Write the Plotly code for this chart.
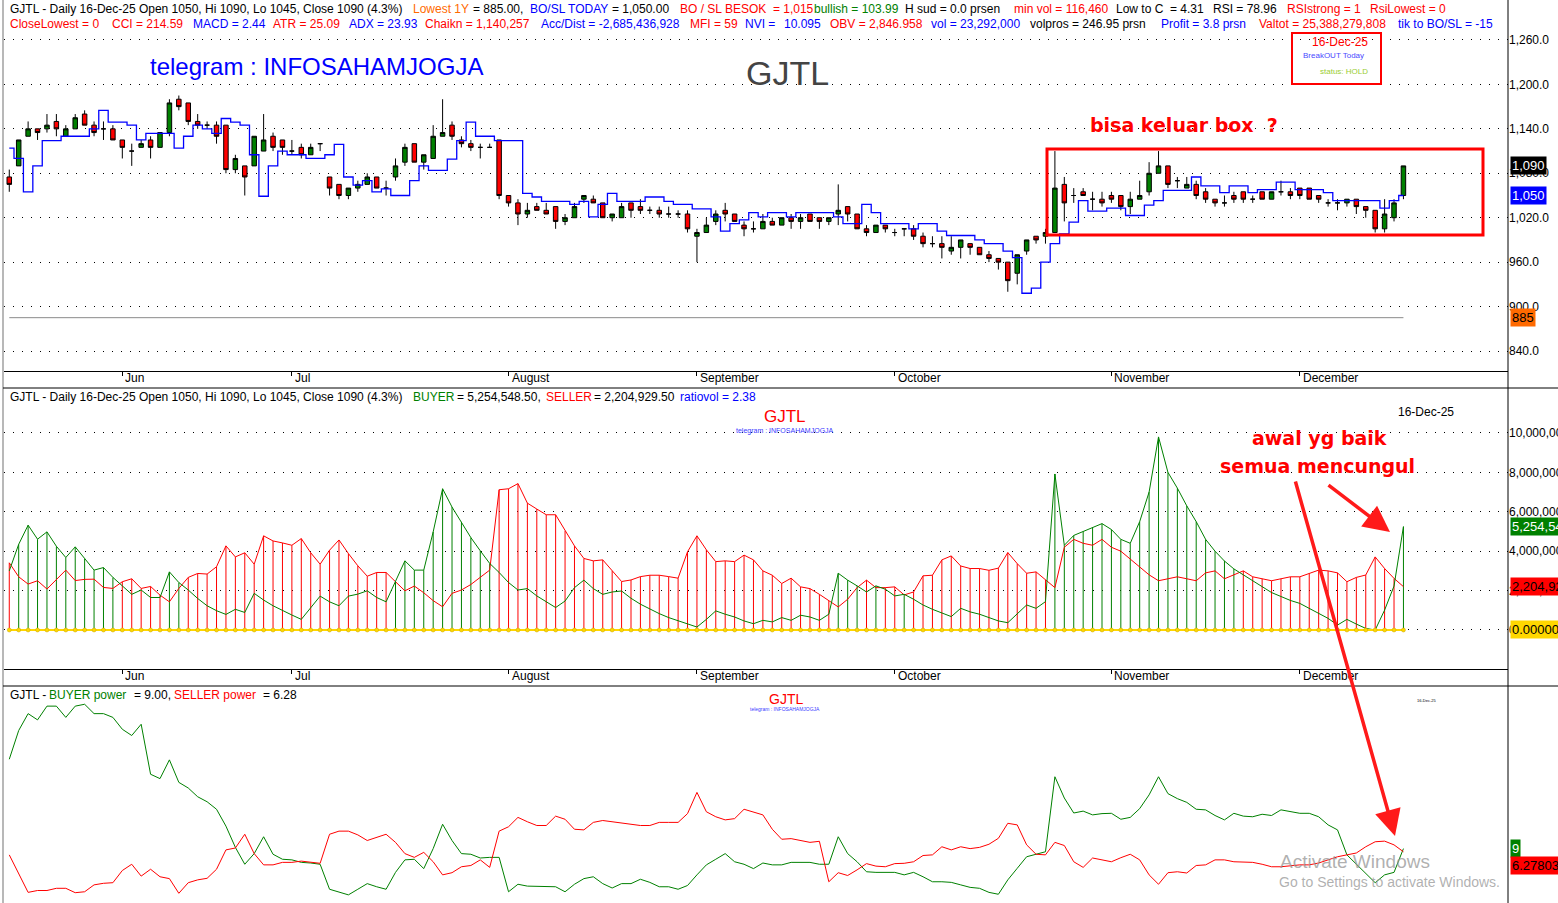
import plotly.graph_objects as go

W, H = 1558, 903
L, R = 4, 50
FONT = "Liberation Sans, Arial, sans-serif"
HAND = "DejaVu Sans, sans-serif"

# ---------------- data ----------------
month_names = ["Jun", "Jul", "August", "September", "October", "November", "December"]
month_start = [12, 30, 53, 73, 94, 117, 137]

price_open = [1075, 1090, 1130, 1140, 1140, 1150, 1130, 1140, 1160, 1145,
              1140, 1140, 1125, 1110, 1115, 1125, 1115, 1135, 1180, 1175,
              1150, 1145, 1145, 1145, 1085, 1090, 1090, 1110, 1130, 1125,
              1110, 1115, 1105, 1120, 1075, 1065, 1050, 1060, 1065, 1075,
              1060, 1075, 1095, 1120, 1095, 1100, 1130, 1145, 1125, 1120,
              1115, 1115, 1125, 1050, 1040, 1025, 1035, 1030, 1035, 1015,
              1020, 1045, 1045, 1040, 1020, 1020, 1040, 1035, 1030, 1030,
              1025, 1025, 1025, 995, 1000, 1015, 1030, 1025, 1010, 1005,
              1005, 1015, 1010, 1020, 1015, 1025, 1020, 1015, 1025, 1035,
              1025, 1005, 1000, 1010, 1000, 1005, 1005, 995, 985, 985,
              975, 980, 985, 980, 970, 965, 960, 945, 975, 995,
              995, 1000, 1065, 1050, 1055, 1045, 1045, 1050, 1050, 1035,
              1045, 1055, 1080, 1090, 1070, 1060, 1065, 1055, 1045, 1040,
              1050, 1055, 1045, 1055, 1045, 1055, 1055, 1060, 1060, 1050,
              1040, 1040, 1040, 1045, 1035, 1030, 1005, 1020, 1050]
price_high = [1085, 1125, 1150, 1140, 1160, 1160, 1145, 1160, 1165, 1150,
              1150, 1145, 1125, 1120, 1125, 1130, 1135, 1180, 1185, 1175,
              1160, 1150, 1150, 1145, 1105, 1090, 1130, 1160, 1135, 1125,
              1125, 1120, 1120, 1120, 1075, 1065, 1060, 1070, 1080, 1075,
              1070, 1100, 1120, 1120, 1105, 1145, 1180, 1150, 1130, 1125,
              1120, 1120, 1125, 1050, 1045, 1040, 1040, 1040, 1035, 1025,
              1040, 1050, 1050, 1040, 1025, 1040, 1040, 1045, 1035, 1035,
              1035, 1030, 1030, 1005, 1020, 1030, 1040, 1025, 1015, 1015,
              1025, 1020, 1020, 1025, 1025, 1025, 1020, 1020, 1065, 1035,
              1025, 1010, 1010, 1010, 1005, 1005, 1010, 1000, 995, 995,
              995, 990, 985, 980, 975, 965, 960, 970, 990, 995,
              1005, 1110, 1075, 1060, 1060, 1055, 1055, 1055, 1050, 1055,
              1070, 1095, 1110, 1090, 1075, 1075, 1070, 1060, 1045, 1050,
              1055, 1055, 1050, 1055, 1055, 1070, 1060, 1060, 1060, 1050,
              1045, 1045, 1045, 1045, 1035, 1030, 1045, 1045, 1090]
price_low = [1055, 1090, 1130, 1125, 1135, 1130, 1130, 1140, 1145, 1130,
             1125, 1125, 1100, 1090, 1115, 1100, 1115, 1130, 1165, 1145,
             1140, 1140, 1120, 1080, 1080, 1050, 1090, 1110, 1110, 1105,
             1105, 1100, 1105, 1110, 1050, 1045, 1045, 1055, 1065, 1060,
             1050, 1070, 1090, 1095, 1085, 1100, 1130, 1125, 1115, 1110,
             1100, 1115, 1045, 1035, 1010, 1020, 1030, 1025, 1005, 1010,
             1020, 1040, 1040, 1020, 1015, 1020, 1020, 1025, 1025, 1020,
             1020, 1020, 1000, 960, 1000, 1010, 1015, 1015, 995, 1000,
             1005, 1010, 1010, 1005, 1005, 1015, 1005, 1010, 1010, 1015,
             1005, 995, 1000, 1000, 995, 995, 990, 980, 980, 965,
             970, 965, 970, 970, 960, 950, 920, 930, 970, 985,
             985, 1000, 1015, 1040, 1050, 1030, 1035, 1040, 1030, 1025,
             1045, 1050, 1080, 1060, 1060, 1060, 1045, 1040, 1035, 1035,
             1040, 1040, 1040, 1045, 1045, 1050, 1045, 1045, 1045, 1040,
             1035, 1030, 1035, 1025, 1020, 1000, 1000, 1015, 1045]
price_close = [1065, 1125, 1140, 1135, 1145, 1140, 1140, 1155, 1145, 1135,
               1140, 1125, 1115, 1110, 1120, 1115, 1135, 1175, 1170, 1150,
               1145, 1145, 1130, 1085, 1100, 1075, 1130, 1125, 1115, 1115,
               1110, 1105, 1115, 1120, 1060, 1050, 1060, 1065, 1075, 1060,
               1060, 1090, 1115, 1095, 1105, 1130, 1135, 1130, 1120, 1115,
               1115, 1115, 1050, 1040, 1025, 1030, 1030, 1025, 1015, 1020,
               1035, 1050, 1040, 1020, 1025, 1035, 1030, 1030, 1030, 1025,
               1025, 1025, 1005, 1000, 1010, 1025, 1025, 1015, 1005, 1005,
               1015, 1010, 1020, 1015, 1020, 1015, 1015, 1020, 1030, 1025,
               1005, 1000, 1010, 1005, 1000, 1005, 995, 985, 985, 980,
               980, 990, 980, 970, 965, 960, 935, 970, 990, 990,
               1000, 1060, 1040, 1050, 1050, 1045, 1040, 1045, 1035, 1045,
               1050, 1080, 1090, 1065, 1070, 1065, 1050, 1045, 1040, 1040,
               1045, 1045, 1045, 1045, 1055, 1055, 1050, 1050, 1045, 1045,
               1040, 1040, 1045, 1035, 1030, 1005, 1025, 1040, 1090]
bo_sl = [1114, 1100, 1055, 1090, 1124, 1124, 1130, 1130, 1130, 1140,
         1165, 1149, 1149, 1145, 1125, 1134, 1134, 1134, 1114, 1130,
         1145, 1140, 1134, 1154, 1149, 1145, 1105, 1049, 1090, 1110,
         1105, 1105, 1100, 1100, 1105, 1119, 1075, 1064, 1070, 1055,
         1059, 1050, 1050, 1070, 1090, 1084, 1084, 1099, 1124, 1149,
         1130, 1130, 1124, 1124, 1124, 1053, 1048, 1042, 1042, 1042,
         1038, 1042, 1021, 1038, 1053, 1042, 1042, 1042, 1048, 1048,
         1042, 1038, 1038, 1032, 1032, 1021, 1002, 1012, 1017, 1027,
         1021, 1027, 1027, 1021, 1027, 1027, 1027, 1027, 1021, 1012,
         1012, 1038, 1027, 1012, 1012, 1012, 1005, 1012, 1012, 1002,
         996, 996, 996, 990, 985, 985, 975, 966, 918, 925,
         960, 985, 998, 1014, 1043, 1029, 1029, 1033, 1033, 1023,
         1023, 1037, 1043, 1057, 1057, 1057, 1075, 1063, 1063, 1054,
         1063, 1063, 1054, 1058, 1058, 1068, 1068, 1058, 1058, 1058,
         1054, 1043, 1043, 1043, 1043, 1043, 1033, 1043, 1050]
lowest_1y = 885

# buyer / seller volume, millions of shares
buyer_vol = [3.00, 4.35, 5.32, 4.61, 4.98, 4.25, 3.68, 4.22, 3.63, 3.04,
             3.17, 2.67, 2.24, 1.81, 2.03, 1.65, 1.65, 2.95, 2.41, 2.03,
             1.60, 1.23, 0.98, 0.79, 1.05, 0.89, 1.86, 1.52, 1.23, 0.98,
             0.76, 0.54, 1.13, 1.72, 1.43, 1.23, 1.72, 1.82, 1.99, 1.65,
             1.43, 2.48, 3.51, 3.04, 3.04, 4.98, 7.17, 6.24, 5.49, 4.69,
             4.02, 3.38, 2.92, 2.41, 2.03, 2.10, 1.73, 1.42, 1.14, 1.47,
             2.15, 2.53, 2.10, 1.81, 1.93, 1.98, 1.61, 1.31, 1.05, 0.83,
             0.63, 0.46, 0.29, 0.15, 0.54, 0.97, 0.80, 0.66, 0.46, 0.32,
             0.49, 0.41, 0.63, 0.49, 0.75, 0.66, 0.49, 0.80, 2.88, 2.53,
             2.24, 1.93, 2.24, 2.07, 1.73, 1.81, 1.56, 1.27, 1.05, 0.88,
             0.68, 1.10, 0.92, 0.80, 0.63, 0.46, 0.37, 0.83, 1.27, 1.10,
             1.44, 7.92, 4.3, 4.8, 5.0, 5.2, 5.4, 5.1, 4.6, 4.4,
             5.5, 7.0, 9.8, 8.0, 7.2, 6.3, 5.5, 4.6, 4.0, 3.5,
             3.1, 2.8, 2.5, 2.2, 1.9, 1.7, 1.5, 1.35, 1.10, 0.81,
             0.59, 0.25, 0.54, 0.30, 0.08, 0.0, 1.01, 2.23, 5.25]
seller_vol = [3.41, 2.70, 2.33, 2.50, 2.08, 2.57, 3.04, 2.51, 2.57, 2.58,
              2.16, 2.11, 2.45, 2.60, 2.11, 2.21, 1.77, 1.43, 2.11, 2.67,
              2.87, 2.84, 3.21, 4.27, 3.71, 3.92, 3.34, 4.78, 4.52, 4.42,
              4.30, 4.64, 3.92, 3.34, 4.05, 4.57, 3.88, 3.26, 2.73, 2.92,
              2.92, 2.45, 1.99, 2.23, 1.89, 1.49, 1.18, 1.86, 2.03, 2.31,
              2.67, 3.04, 7.12, 7.17, 7.43, 6.44, 6.14, 5.85, 5.85, 5.03,
              4.27, 3.63, 3.51, 3.56, 3.00, 2.46, 2.54, 2.71, 2.78, 2.78,
              2.71, 2.63, 3.97, 4.78, 4.07, 3.47, 3.51, 3.47, 3.80, 3.56,
              3.00, 2.78, 2.36, 2.63, 2.19, 2.10, 1.81, 1.47, 1.17, 1.56,
              2.15, 2.53, 2.15, 2.15, 2.19, 1.78, 1.93, 2.75, 2.78, 3.56,
              3.76, 3.25, 3.12, 3.12, 3.03, 3.14, 3.93, 3.37, 2.88, 2.95,
              2.54, 2.15, 4.2, 4.6, 4.4, 4.3, 4.6, 4.2, 4.0, 3.6,
              3.2, 2.8, 2.5, 2.6, 2.7, 2.6, 2.5, 2.9, 3.0, 2.6,
              2.8, 3.0, 2.7, 2.6, 2.5, 2.6, 2.7, 2.70, 2.87, 3.04,
              3.00, 2.90, 2.45, 2.67, 2.79, 3.71, 3.12, 2.62, 2.20]

buyer_power = [23.2, 27.8, 30.5, 29.5, 31.7, 31.7, 29.9, 31.7, 32.0, 30.5,
               30.5, 29.9, 28.0, 27.0, 28.8, 20.8, 20.1, 23.1, 19.5, 18.6,
               17.2, 16.4, 15.2, 12.5, 9.1, 6.4, 8.1, 10.8, 8.0, 7.2,
               7.1, 6.7, 6.6, 6.4, 2.4, 1.9, 1.5, 2.4, 3.3, 2.8,
               2.4, 5.1, 7.1, 7.2, 5.7, 8.9, 12.8, 10.2, 8.1, 8.0,
               7.4, 7.5, 7.5, 2.0, 3.2, 2.9, 2.9, 2.9, 2.8, 2.0,
               3.2, 4.1, 4.4, 3.3, 2.6, 3.3, 3.3, 4.0, 3.5, 2.8,
               2.8, 2.4, 3.0, 4.7, 6.3, 7.2, 8.1, 6.8, 6.4, 5.7,
               6.6, 6.3, 6.3, 6.7, 6.7, 6.7, 6.4, 6.4, 10.8, 8.1,
               6.8, 5.2, 5.1, 5.1, 5.1, 4.7, 5.1, 4.4, 3.6, 3.6,
               3.5, 3.1, 2.7, 2.55, 1.9, 1.6, 3.9, 5.75, 7.6, 8.0,
               8.4, 20.4, 17.0, 14.6, 14.9, 14.3, 14.5, 14.55, 13.6, 13.9,
               15.3, 17.5, 20.4, 17.7, 16.9, 16.3, 15.2, 15.1, 14.2, 13.5,
               14.55, 14.1, 14.0, 14.4, 14.2, 15.1, 14.8, 14.55, 14.55, 14.0,
               12.7, 11.9, 7.9, 6.4, 4.95, 3.45, 4.7, 5.1, 8.9]
seller_power = [7.9, 5.0, 1.9, 2.2, 2.2, 2.55, 2.55, 1.85, 2.0, 3.1,
                3.35, 3.45, 5.4, 6.4, 4.5, 5.6, 4.4, 4.1, 1.75, 3.45,
                3.9, 4.15, 5.6, 8.7, 9.0, 11.2, 8.1, 6.3, 6.3, 6.7,
                6.7, 6.9, 6.7, 6.55, 11.2, 11.7, 11.7, 11.1, 10.2, 10.7,
                11.2, 9.9, 8.1, 7.5, 8.3, 6.8, 4.7, 5.05, 6.0, 6.2,
                7.1, 5.9, 11.7, 12.4, 13.9, 13.2, 12.6, 12.6, 14.1, 13.6,
                12.0, 11.9, 13.1, 13.4, 13.2, 13.1, 12.9, 12.6, 12.6, 13.1,
                13.1, 13.1, 14.5, 17.9, 14.8, 14.0, 13.5, 13.7, 15.2, 14.8,
                14.3, 12.0, 10.4, 10.5, 10.2, 9.9, 10.07, 3.6, 5.05, 4.6,
                5.5, 6.5, 6.1, 6.0, 6.5, 6.55, 6.8, 7.8, 7.9, 9.2,
                8.7, 9.2, 8.9, 9.1, 9.6, 10.55, 12.95, 12.7, 9.5, 8.0,
                7.9, 9.9, 9.4, 6.8, 5.9, 7.4, 7.1, 6.8, 7.45, 8.0,
                7.1, 4.7, 3.2, 5.05, 5.2, 5.0, 6.2, 6.3, 7.1, 7.1,
                6.8, 6.7, 6.7, 6.4, 6.0, 6.0, 6.2, 6.3, 6.3, 6.6,
                7.1, 7.6, 7.9, 8.2, 9.2, 10.0, 10.1, 9.5, 8.4]

N = len(price_close)
bars = list(range(N))


def px(x):  # screen x (pixels) -> paper
    return (x - L) / (W - L - R)


def py(y):  # screen y (pixels, from top) -> paper
    return 1 - y / H


RED, GREEN, BLUE = "#FF0000", "#008000", "#0000FF"

fig = go.Figure()

# ---- price panel ----
fig.add_trace(go.Candlestick(
    x=bars, open=price_open, high=price_high, low=price_low, close=price_close,
    increasing=dict(fillcolor=GREEN, line=dict(color="black", width=1)),
    decreasing=dict(fillcolor=RED, line=dict(color="black", width=1)),
    whiskerwidth=0, xaxis="x", yaxis="y", hoverinfo="skip"))
fig.add_trace(go.Scatter(x=bars, y=bo_sl, mode="lines", line=dict(color=BLUE, width=1.3, shape="hvh"),
                         xaxis="x", yaxis="y"))
fig.add_trace(go.Scatter(x=[bars[0], bars[-1]], y=[lowest_1y, lowest_1y], mode="lines",
                         line=dict(color="#8a8a8a", width=1), xaxis="x", yaxis="y"))

# ---- buyer / seller volume panel ----
gx, gy, rx, ry = [], [], [], []
for i, (b, s) in enumerate(zip(buyer_vol, seller_vol)):
    top = max(b, s) * 1e6
    if b >= s:
        gx += [i, i, None]; gy += [0, top, None]
    else:
        rx += [i, i, None]; ry += [0, top, None]
fig.add_trace(go.Scatter(x=gx, y=gy, mode="lines", line=dict(color=GREEN, width=1), xaxis="x2", yaxis="y2"))
fig.add_trace(go.Scatter(x=rx, y=ry, mode="lines", line=dict(color=RED, width=1), xaxis="x2", yaxis="y2"))
fig.add_trace(go.Scatter(x=bars, y=[v * 1e6 for v in seller_vol], mode="lines",
                         line=dict(color=RED, width=1), xaxis="x2", yaxis="y2"))
fig.add_trace(go.Scatter(x=bars, y=[v * 1e6 for v in buyer_vol], mode="lines",
                         line=dict(color=GREEN, width=1), xaxis="x2", yaxis="y2"))
fig.add_trace(go.Scatter(x=bars, y=[0] * N, mode="lines+markers",
                         line=dict(color="#FFD700", width=2),
                         marker=dict(size=4, color="#FFD700", line=dict(color="#C9A400", width=0.5)),
                         xaxis="x2", yaxis="y2"))

# ---- buyer / seller power panel ----
fig.add_trace(go.Scatter(x=bars, y=buyer_power, mode="lines", line=dict(color=GREEN, width=1),
                         xaxis="x3", yaxis="y3"))
fig.add_trace(go.Scatter(x=bars, y=seller_power, mode="lines", line=dict(color=RED, width=1),
                         xaxis="x3", yaxis="y3"))

xrange = [-0.56, 159.1]
xcommon = dict(range=xrange, showgrid=False, zeroline=False, tickvals=month_start, showticklabels=False,
               ticks="outside", ticklen=4, tickcolor="black", showline=True, linecolor="black",
               linewidth=1, rangeslider=dict(visible=False), fixedrange=True)
grid = dict(showgrid=True, gridcolor="black", gridwidth=1, griddash="1px,8px", zeroline=False,
            side="right", ticks="", showline=False, automargin=False,
            tickfont=dict(size=12, color="black", family=FONT))

fig.update_layout(
    width=W, height=H, margin=dict(l=L, r=R, t=0, b=0),
    paper_bgcolor="white", plot_bgcolor="white", showlegend=False, boxgap=0.32,
    font=dict(family=FONT, size=12, color="black"),
    xaxis=dict(domain=[0, 1], anchor="y", **xcommon),
    xaxis2=dict(domain=[0, 1], anchor="y2", matches="x", **xcommon),
    xaxis3=dict(domain=[0, 1], anchor="y3", matches="x", range=xrange, showgrid=False, zeroline=False,
                showticklabels=False, ticks="", showline=False),
    yaxis=dict(domain=[py(371), 1], range=[813, 1314], tickvals=[840, 900, 960, 1020, 1080, 1140, 1200, 1260],
               tickformat=",.1f", **grid),
    yaxis2=dict(domain=[py(669), py(388)], range=[-1.98e6, 12.284e6],
                tickvals=[0, 2e6, 4e6, 6e6, 8e6, 10e6], tickformat=",d", **grid),
    yaxis3=dict(domain=[0, py(686)], range=[0.2, 34.92], showgrid=False, zeroline=False,
                showticklabels=False, ticks=""),
)

ann = []


def text(x, y, s, color="black", size=12, anchor="left", bold=False, family=FONT, **kw):
    if bold:
        s = "<b>" + s + "</b>"
    d = dict(x=px(x), y=py(y), xref="paper", yref="paper", text=s, showarrow=False,
             xanchor=anchor, yanchor="middle", font=dict(color=color, size=size, family=family))
    d.update(kw)
    ann.append(d)


ORANGE = "#FF6A00"
header1 = [(8, "black", "GJTL - Daily 16-Dec-25 Open 1050, Hi 1090, Lo 1045, Close 1090 (4.3%)"),
           (411, ORANGE, "Lowest 1Y"), (471, "black", "= 885.00,"), (528, BLUE, "BO/SL TODAY"),
           (610, "black", "= 1,050.00"), (678, RED, "BO / SL BESOK\u00a0 = 1,015"),
           (812, GREEN, "bullish = 103.99"), (903, "black", "H sud = 0.0 prsen"),
           (1012, RED, "min vol = 116,460"), (1114, "black", "Low to C\u00a0 = 4.31"),
           (1211, "black", "RSI = 78.96"), (1285, RED, "RSIstrong = 1"), (1368, RED, "RsiLowest = 0")]
header2 = [(8, RED, "CloseLowest = 0"), (110, RED, "CCI = 214.59"), (191, BLUE, "MACD = 2.44"),
           (271, RED, "ATR = 25.09"), (347, BLUE, "ADX = 23.93"), (423, RED, "Chaikn = 1,140,257"),
           (539, BLUE, "Acc/Dist = -2,685,436,928"), (688, RED, "MFI = 59"), (743, BLUE, "NVI ="),
           (782, BLUE, "10.095"), (828, RED, "OBV = 2,846.958"), (929, BLUE, "vol = 23,292,000"),
           (1028, "black", "volpros = 246.95 prsn"), (1159, BLUE, "Profit = 3.8 prsn"),
           (1257, RED, "Valtot = 25,388,279,808"), (1396, BLUE, "tik to BO/SL = -15")]
header3 = [(8, "black", "GJTL - Daily 16-Dec-25 Open 1050, Hi 1090, Lo 1045, Close 1090 (4.3%)"),
           (411, GREEN, "BUYER"), (455, "black", "= 5,254,548.50,"), (544, RED, "SELLER"),
           (592, "black", "= 2,204,929.50"), (678, BLUE, "ratiovol = 2.38")]
header4 = [(8, "black", "GJTL -"), (47, GREEN, "BUYER power"), (132, "black", "= 9.00,"),
           (172, RED, "SELLER power"), (261, "black", "= 6.28")]
for y, row in [(9, header1), (24, header2), (397, header3), (695, header4)]:
    for x, c, s in row:
        text(x, y, s, c)

# month labels under price and volume panels
for y in (378, 676):
    for name, i in zip(month_names, month_start):
        ann.append(dict(x=i, y=py(y), xref="x", yref="paper", text=name, showarrow=False,
                        xanchor="left", yanchor="middle", xshift=1, font=dict(size=12, family=FONT)))

# titles / notes / watermark
text(148, 66, "telegram : INFOSAHAMJOGJA", BLUE, 24)
text(787, 73, "GJTL", "#444444", 34, anchor="center")
text(1340, 42, "16-Dec-25", RED, 12, anchor="center")
text(1301, 55, "BreakOUT Today", "#4a4aff", 8)
text(1318, 71, "status: HOLD", "#9ACD32", 8)
text(1088, 125, "bisa keluar box\u00a0 ?", RED, 19, bold=True, family=HAND)
text(785, 416, "GJTL", RED, 17, anchor="center")
text(785, 431, "telegram : INFOSAHAMJOGJA", "#3a3aff", 7, anchor="center")
text(1426, 412, "16-Dec-25", "black", 12, anchor="center")
text(1250, 438, "awal yg baik", RED, 19, bold=True, family=HAND)
text(1218, 466, "semua mencungul", RED, 19, bold=True, family=HAND)
text(786, 699, "GJTL", RED, 14, anchor="center")
text(785, 709, "telegram : INFOSAHAMJOGJA", "#3a3aff", 5, anchor="center")
text(1426, 700, "16-Dec-25", "black", 4, anchor="center")
text(1278, 861, "Activate Windows", "rgba(150,150,150,0.75)", 19)
text(1277, 882, "Go to Settings to activate Windows.", "rgba(150,150,150,0.75)", 14)


# value labels on the right axis
def value_box(y, yref, s, bg, fg):
    ann.append(dict(x=px(1510), y=y, xref="paper", yref=yref, text=s, showarrow=False,
                    xanchor="left", yanchor="middle", bgcolor=bg, borderpad=1,
                    font=dict(color=fg, size=13, family=FONT)))


value_box(price_close[-1], "y", "1,090", "black", "white")
value_box(bo_sl[-1], "y", "1,050", BLUE, "white")
value_box(lowest_1y, "y", "885", ORANGE, "black")
value_box(buyer_vol[-1] * 1e6, "y2", "5,254,548", GREEN, "white")
value_box(seller_vol[-1] * 1e6, "y2", "2,204,929", RED, "black")
value_box(0, "y2", "0.00000", "#FFD700", "black")
value_box(9.0, "y3", "9", GREEN, "white")
value_box(6.28, "y3", "6.27803", RED, "black")

# red hand-drawn arrows
for head, tail in [((1390, 532), (1327, 484)), ((1395, 836), (1295, 480))]:
    ann.append(dict(x=px(head[0]), y=py(head[1]), xref="paper", yref="paper", text="",
                    showarrow=True, ax=tail[0] - head[0], ay=tail[1] - head[1],
                    arrowcolor="#FF1A1A", arrowwidth=3.5, arrowhead=2, arrowsize=1.5))

fig.update_layout(annotations=ann)

shapes = [
    dict(type="rect", xref="paper", yref="paper", x0=px(1047), x1=px(1483), y0=py(149), y1=py(235),
         line=dict(color=RED, width=3)),
    dict(type="rect", xref="paper", yref="paper", x0=px(1292), x1=px(1381), y0=py(33), y1=py(84),
         line=dict(color=RED, width=2)),
    dict(type="line", xref="paper", yref="paper", x0=1, x1=1, y0=0, y1=1, line=dict(color="black", width=1)),
    dict(type="line", xref="paper", yref="paper", x0=px(3), x1=px(3), y0=0, y1=1,
         line=dict(color="#a0a0a0", width=1.5)),
    dict(type="line", xref="paper", yref="paper", x0=px(3), x1=px(1558), y0=py(388), y1=py(388),
         line=dict(color="black", width=1)),
    dict(type="line", xref="paper", yref="paper", x0=px(3), x1=px(1558), y0=py(686), y1=py(686),
         line=dict(color="black", width=1)),
]
fig.update_layout(shapes=shapes)

fig.write_html("out.html", config={"displayModeBar": False},
               post_script="document.body.style.margin='0px';")
